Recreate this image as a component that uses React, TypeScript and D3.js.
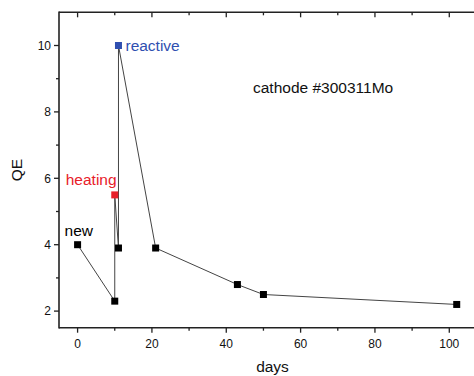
import React from "react";
import * as d3 from "d3";

const days = [0, 10, 10, 11, 11, 21, 43, 50, 102];
const qe = [4, 2.3, 5.5, 3.9, 10, 3.9, 2.8, 2.5, 2.2];
const markerColors = ["#000", "#000", "#e8202a", "#000", "#2f4fb0", "#000", "#000", "#000", "#000"];
const xTicks = [0, 20, 40, 60, 80, 100];
const xMinor = [10, 30, 50, 70, 90];
const yTicks = [2, 4, 6, 8, 10];
const yMinor = [3, 5, 7, 9];
const annotations = [
  { text: "new", x: 0, y: 4, color: "#000" },
  { text: "heating", x: 10, y: 5.5, color: "#e8202a" },
  { text: "reactive", x: 11, y: 10, color: "#2f4fb0" },
];
const title = "cathode #300311Mo";

export default function App() {
  const W = 474, H = 376;
  const left = 59, top = 12.3, bottom = 327.7;
  const x = d3.scaleLinear().domain([-5, 110]).range([left, left + 115 * 3.717]);
  const y = d3.scaleLinear().domain([1.5, 11]).range([bottom, top]);
  const line = d3.line<number>().x((_, i) => x(days[i])).y((d) => y(d));
  const font = "'Liberation Sans', Arial, sans-serif";
  const ms = 7;
  const right = x(110);
  return (
    <svg width={W} height={H} style={{ position: "absolute", left: 0, top: 0, background: "#fff" }} fontFamily={font}>
      <rect x={0} y={0} width={W} height={H} fill="#fff" />
      {/* axes frame */}
      <line x1={left} x2={right} y1={top} y2={top} stroke="#222" strokeWidth={1.6} />
      <line x1={left} x2={right} y1={bottom} y2={bottom} stroke="#222" strokeWidth={1.6} />
      <line x1={left} x2={left} y1={top - 0.8} y2={bottom + 0.8} stroke="#222" strokeWidth={1.6} />
      {/* x ticks */}
      {xTicks.map((t) => (
        <g key={"xt" + t}>
          <line x1={x(t)} x2={x(t)} y1={bottom} y2={bottom + 5} stroke="#222" strokeWidth={1.3} />
          <line x1={x(t)} x2={x(t)} y1={top} y2={top + 5} stroke="#222" strokeWidth={1.3} />
          <text x={x(t)} y={348} textAnchor="middle" fontSize={12} fill="#111">{t}</text>
        </g>
      ))}
      {xMinor.map((t) => (
        <g key={"xm" + t}>
          <line x1={x(t)} x2={x(t)} y1={bottom} y2={bottom + 3} stroke="#222" strokeWidth={1.3} />
          <line x1={x(t)} x2={x(t)} y1={top} y2={top + 3} stroke="#222" strokeWidth={1.3} />
        </g>
      ))}
      {/* y ticks */}
      {yTicks.map((t) => (
        <g key={"yt" + t}>
          <line x1={left - 5} x2={left} y1={y(t)} y2={y(t)} stroke="#222" strokeWidth={1.3} />
          <text x={left - 8} y={y(t)} dy="0.35em" textAnchor="end" fontSize={12} fill="#111">{t}</text>
        </g>
      ))}
      {yMinor.map((t) => (
        <line key={"ym" + t} x1={left - 3} x2={left} y1={y(t)} y2={y(t)} stroke="#222" strokeWidth={1.3} />
      ))}
      {/* axis titles */}
      <text x={272.5} y={372} textAnchor="middle" fontSize={15.5} fill="#111">days</text>
      <text transform={`translate(22,${(top + bottom) / 2}) rotate(-90)`} textAnchor="middle" fontSize={15.5} fill="#111">QE</text>
      {/* data line */}
      <path d={line(qe) || ""} fill="none" stroke="#444" strokeWidth={1} />
      {qe.map((v, i) => (
        <rect key={"m" + i} x={x(days[i]) - ms / 2} y={y(v) - ms / 2} width={ms} height={ms} fill={markerColors[i]} />
      ))}
      {/* annotations */}
      <text x={x(annotations[0].x) - 13} y={y(annotations[0].y) - 9} fontSize={15.5} fill={annotations[0].color}>{annotations[0].text}</text>
      <text x={x(annotations[1].x) - 49} y={y(annotations[1].y) - 10} fontSize={15.5} fill={annotations[1].color}>{annotations[1].text}</text>
      <text x={x(annotations[2].x) + 7} y={y(annotations[2].y) + 5} fontSize={15.5} fill={annotations[2].color}>{annotations[2].text}</text>
      <text x={253} y={93} fontSize={15.5} fill="#111">{title}</text>
    </svg>
  );
}
